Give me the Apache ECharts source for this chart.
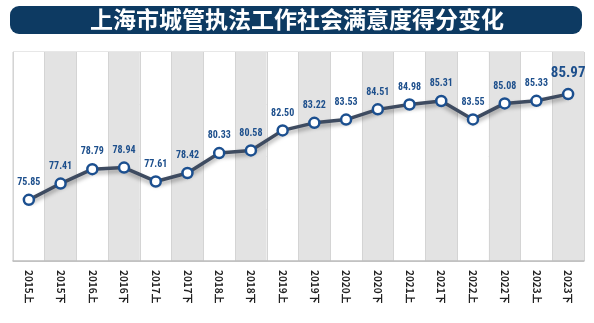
<!DOCTYPE html>
<html><head><meta charset="utf-8">
<script src="https://cdn.jsdelivr.net/npm/echarts@6/dist/echarts.min.js"></script>
<style>html,body{margin:0;padding:0;background:#fff}#c{width:594px;height:323px}</style>
</head><body><div id="c"></div>
<script>
var titleText = '上海市城管执法工作社会满意度得分变化';
var categories = ['2015上','2015下','2016上','2016下','2017上','2017下','2018上','2018下','2019上','2019下','2020上','2020下','2021上','2021下','2022上','2022下','2023上','2023下'];
var scores = [75.85,77.41,78.79,78.94,77.61,78.42,80.33,80.58,82.50,83.22,83.53,84.51,84.98,85.31,83.55,85.08,85.33,85.97];
var yMin = 70, yMax = 90, yStep = 5;

var chart = echarts.init(document.getElementById('c'), null, {renderer:'canvas'});
var data = scores.map(function(v, i){
  var last = i === scores.length - 1;
  return {value: v, label: last ? {fontSize: 15, distance: 7} : {}};
});
chart.setOption({
  animation: false,
  graphic: [
    {type:'rect', left:10, top:6, shape:{width:572, height:28, r:9}, style:{fill:'#0d3a62'}},
    {type:'text', left:'center', top:8, style:{text:titleText, fill:'#fff', font:'bold 23px "Noto Sans CJK SC"'}}
  ],
  grid: {left:13, right:10, top:52, bottom:62, show:true, borderColor:'#cfcfcf', borderWidth:1, backgroundColor:'transparent'},
  xAxis: {
    type:'category', data: categories, boundaryGap:true,
    axisLine:{show:true, lineStyle:{color:'#bdbdbd', width:1.5}},
    axisTick:{show:false},
    axisLabel:{rotate:-90, interval:0, margin:9, color:'#222', fontSize:10, fontWeight:'bold', fontFamily:'"Noto Sans CJK SC", sans-serif'},
    splitArea:{show:true, interval:0, areaStyle:{color:['#ffffff','#e3e3e3']}},
    splitLine:{show:true, interval:0, lineStyle:{color:'#d4d4d4', width:1}}
  },
  yAxis: {
    type:'value', min:yMin, max:yMax, interval:yStep,
    axisLabel:{show:false}, axisLine:{show:false}, axisTick:{show:false},
    splitLine:{show:true, lineStyle:{color:'#d2d2d2', width:1}}
  },
  series: [{
    type:'line', data: data,
    symbol:'circle', symbolSize:10,
    lineStyle:{color:'#3e4b60', width:3.5, shadowColor:'rgba(0,0,0,0.35)', shadowBlur:4, shadowOffsetY:3},
    itemStyle:{color:'#ffffff', borderColor:'#1b4f8f', borderWidth:2.5},
    label:{show:true, position:'top', distance:6, color:'#1d4f8c', fontSize:10, fontWeight:'bold', fontFamily:'"Liberation Sans Narrow", "Roboto Condensed", sans-serif',
      formatter:function(p){return p.value.toFixed(2);}},
    z:5
  }]
});
</script></body></html>
